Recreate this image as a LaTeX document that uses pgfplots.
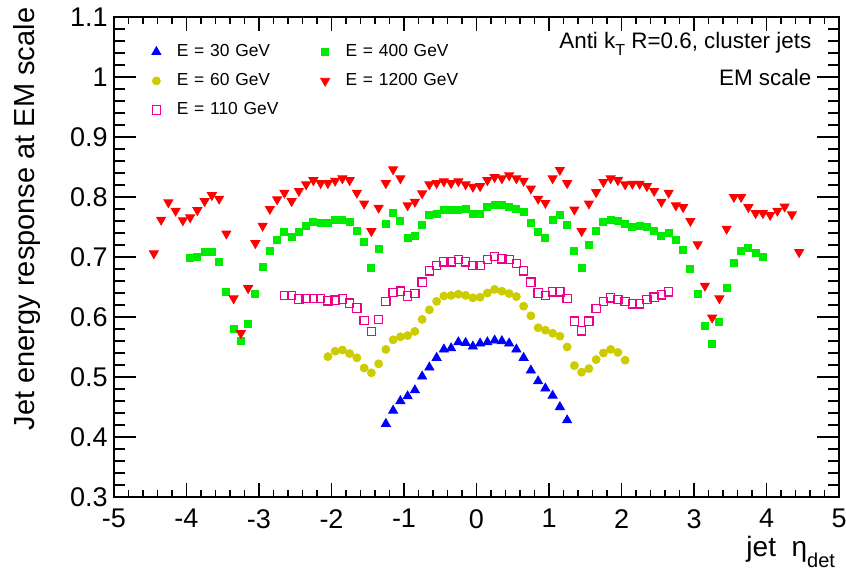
\documentclass[border=0pt]{standalone}
\usepackage{fontspec}
\setmainfont{Liberation Sans}
\usepackage{pgfplots}
\pgfplotsset{compat=1.18}
\definecolor{myyellow}{RGB}{204,204,0}
\definecolor{mygreen}{RGB}{0,235,0}
\pgfplotsset{mk/.style={only marks, legend image code/.code={\path (-5pt,0pt) (5pt,0pt); \draw[mark repeat=2,mark phase=2,##1] plot coordinates {(-5pt,0pt) (0pt,0pt) (5pt,0pt)};}}}
\begin{document}
\begin{tikzpicture}
\useasboundingbox (-57pt,-38pt) rectangle (366pt,248.5pt);
% axis with y ticks
\begin{axis}[at={(0pt,0pt)}, anchor=south west, scale only axis, width=362.5pt, height=240pt,
 xmin=-5, xmax=5, ymin=0.3, ymax=1.1, xtick=\empty,
 ytick={0.3,0.4,0.5,0.6,0.7,0.8,0.9,1,1.1}, minor y tick num=4,
 tick align=inside, ytick pos=both, yticklabel pos=left,
 major tick length=10.9pt, minor tick length=5.45pt,
 /pgf/number format/assume math mode=true,
 yticklabel style={font=\fontsize{13.5}{16}\selectfont, inner sep=0pt, xshift=-3pt},
 tick style={black, line width=0.6pt}, axis line style={line width=0.75pt},
 ylabel={Jet energy response at EM scale},
 ylabel style={at={(axis description cs:-0.12,1.02)}, anchor=east, font=\fontsize{14.5}{17}\selectfont, inner sep=0pt}]
\end{axis}
% data axis with x ticks
\begin{axis}[at={(0pt,0pt)}, anchor=south west, scale only axis, width=362.5pt, height=240pt,
 xmin=-5, xmax=5, ymin=0.3, ymax=1.1,
 xtick={-5,-4,-3,-2,-1,0,1,2,3,4,5}, minor x tick num=4, ytick=\empty,
 tick align=inside, xtick pos=both, xticklabel pos=lower,
 major tick length=7.2pt, minor tick length=3.6pt,
 /pgf/number format/assume math mode=true,
 xticklabel style={font=\fontsize{13.5}{16}\selectfont, inner sep=0pt, yshift=-6pt},
 tick style={black, line width=0.6pt}, axis line style={line width=0.75pt},
 xlabel={jet\ \ η\raisebox{-5.5pt}{\fontsize{10}{12}\selectfont det}},
 xlabel style={at={(axis description cs:0.995,-0.124)}, anchor=base east, font=\fontsize{14}{17}\selectfont, inner sep=0pt},
 legend columns=2, legend cell align=left,
 legend style={at={(axis description cs:0.0441,0.945)}, anchor=north west, draw=none, fill=none,
   inner sep=0pt, outer sep=0pt, column sep=0pt, row sep=6pt, font=\fontsize{8.7}{10}\selectfont,
   nodes={inner xsep=5pt, inner ysep=0pt, text height=6.5pt, text depth=2pt, text width=64pt}},
]
% 30 GeV
\addplot[mk, mark=triangle*, mark size=2.6pt, color=blue, mark options={fill=blue}] coordinates {
(-1.25,0.422) (-1.15,0.444) (-1.05,0.460) (-0.95,0.468) (-0.85,0.478) (-0.75,0.501) (-0.65,0.516)
(-0.55,0.532) (-0.45,0.546) (-0.35,0.548) (-0.25,0.558) (-0.15,0.557) (-0.05,0.551) (0.05,0.556)
(0.15,0.558) (0.25,0.561) (0.35,0.560) (0.45,0.556) (0.55,0.546) (0.65,0.532) (0.75,0.511)
(0.85,0.493) (0.95,0.481) (1.05,0.469) (1.15,0.450) (1.25,0.428)};
\addlegendentry{E = 30 GeV}
% 400 GeV
\addplot[mk, mark=square*, mark size=1.75pt, color=mygreen, mark options={fill=mygreen}] coordinates {
(-3.95,0.699) (-3.85,0.701) (-3.75,0.708) (-3.65,0.708) (-3.55,0.692) (-3.45,0.642) (-3.35,0.581)
(-3.25,0.560) (-3.15,0.589) (-3.05,0.639) (-2.95,0.684) (-2.85,0.711) (-2.75,0.728) (-2.65,0.742)
(-2.55,0.733) (-2.45,0.742) (-2.35,0.752) (-2.25,0.758) (-2.15,0.757) (-2.05,0.757) (-1.95,0.762)
(-1.85,0.762) (-1.75,0.758) (-1.65,0.743) (-1.55,0.725) (-1.45,0.682) (-1.35,0.714) (-1.25,0.756)
(-1.15,0.773) (-1.05,0.761) (-0.95,0.732) (-0.85,0.735) (-0.75,0.753) (-0.65,0.770) (-0.55,0.772)
(-0.45,0.778) (-0.35,0.778) (-0.25,0.778) (-0.15,0.780) (-0.05,0.772) (0.05,0.772) (0.15,0.783)
(0.25,0.787) (0.35,0.787) (0.45,0.783) (0.55,0.780) (0.65,0.775) (0.75,0.757) (0.85,0.742)
(0.95,0.732) (1.05,0.762) (1.15,0.771) (1.25,0.754) (1.35,0.711) (1.45,0.682) (1.55,0.721)
(1.65,0.744) (1.75,0.758) (1.85,0.762) (1.95,0.761) (2.05,0.756) (2.15,0.750) (2.25,0.752)
(2.35,0.750) (2.45,0.743) (2.55,0.736) (2.65,0.740) (2.75,0.728) (2.85,0.712) (2.95,0.681)
(3.05,0.639) (3.15,0.586) (3.25,0.556) (3.35,0.592) (3.45,0.648) (3.55,0.691) (3.65,0.710)
(3.75,0.716) (3.85,0.707) (3.95,0.701)};
\addlegendentry{E = 400 GeV}
% 60 GeV
\addplot[mk, mark=*, mark size=2.0pt, color=myyellow, mark options={fill=myyellow}] coordinates {
(-2.05,0.534) (-1.95,0.543) (-1.85,0.545) (-1.75,0.539) (-1.65,0.532) (-1.55,0.515) (-1.45,0.507)
(-1.35,0.522) (-1.25,0.546) (-1.15,0.562) (-1.05,0.567) (-0.95,0.569) (-0.85,0.576) (-0.75,0.596)
(-0.65,0.612) (-0.55,0.626) (-0.45,0.635) (-0.35,0.636) (-0.25,0.638) (-0.15,0.636) (-0.05,0.632)
(0.05,0.633) (0.15,0.640) (0.25,0.646) (0.35,0.643) (0.45,0.639) (0.55,0.634) (0.65,0.618)
(0.75,0.602) (0.85,0.582) (0.95,0.578) (1.05,0.573) (1.15,0.568) (1.25,0.550) (1.35,0.519)
(1.45,0.508) (1.55,0.514) (1.65,0.529) (1.75,0.540) (1.85,0.546) (1.95,0.541) (2.05,0.528)};
\addlegendentry{E = 60 GeV}
% 1200 GeV
\addplot[mk, mark=triangle*, mark size=2.6pt, color=red, mark options={fill=red, rotate=180}] coordinates {
(-4.45,0.706) (-4.35,0.762) (-4.25,0.791) (-4.15,0.777) (-4.05,0.761) (-3.95,0.766) (-3.85,0.778)
(-3.75,0.793) (-3.65,0.803) (-3.55,0.797) (-3.45,0.739) (-3.35,0.631) (-3.25,0.573) (-3.15,0.648)
(-3.05,0.723) (-2.95,0.752) (-2.85,0.780) (-2.75,0.796) (-2.65,0.807) (-2.55,0.793) (-2.45,0.810)
(-2.35,0.821) (-2.25,0.828) (-2.15,0.823) (-2.05,0.823) (-1.95,0.827) (-1.85,0.831) (-1.75,0.828)
(-1.65,0.807) (-1.55,0.789) (-1.45,0.743) (-1.35,0.782) (-1.25,0.823) (-1.15,0.846) (-1.05,0.831)
(-0.95,0.786) (-0.85,0.792) (-0.75,0.806) (-0.65,0.821) (-0.55,0.823) (-0.45,0.826) (-0.35,0.823)
(-0.25,0.826) (-0.15,0.821) (-0.05,0.817) (0.05,0.818) (0.15,0.828) (0.25,0.833) (0.35,0.831)
(0.45,0.836) (0.55,0.831) (0.65,0.827) (0.75,0.814) (0.85,0.797) (0.95,0.790) (1.05,0.831)
(1.15,0.845) (1.25,0.823) (1.35,0.779) (1.45,0.743) (1.55,0.789) (1.65,0.808) (1.75,0.825)
(1.85,0.831) (1.95,0.828) (2.05,0.821) (2.15,0.822) (2.25,0.822) (2.35,0.818) (2.45,0.810)
(2.55,0.792) (2.65,0.807) (2.75,0.786) (2.85,0.783) (2.95,0.760) (3.05,0.721) (3.15,0.652)
(3.25,0.599) (3.35,0.631) (3.45,0.747) (3.55,0.800) (3.65,0.800) (3.75,0.783) (3.85,0.773)
(3.95,0.773) (4.05,0.770) (4.15,0.777) (4.25,0.784) (4.35,0.771) (4.45,0.708)};
\addlegendentry{E = 1200 GeV}
% 110 GeV
\addplot[mk, mark=square, mark size=2.1pt, color=magenta, mark options={line width=0.6pt}] coordinates {
(-2.65,0.636) (-2.55,0.636) (-2.45,0.630) (-2.35,0.631) (-2.25,0.631) (-2.15,0.631) (-2.05,0.627)
(-1.95,0.628) (-1.85,0.630) (-1.75,0.623) (-1.65,0.615) (-1.55,0.594) (-1.45,0.576) (-1.35,0.596)
(-1.25,0.626) (-1.15,0.641) (-1.05,0.643) (-0.95,0.635) (-0.85,0.639) (-0.75,0.658) (-0.65,0.677)
(-0.55,0.686) (-0.45,0.692) (-0.35,0.692) (-0.25,0.696) (-0.15,0.692) (-0.05,0.686) (0.05,0.686)
(0.15,0.696) (0.25,0.701) (0.35,0.697) (0.45,0.696) (0.55,0.689) (0.65,0.677) (0.75,0.658)
(0.85,0.640) (0.95,0.636) (1.05,0.642) (1.15,0.642) (1.25,0.631) (1.35,0.593) (1.45,0.577)
(1.55,0.593) (1.65,0.614) (1.75,0.626) (1.85,0.632) (1.95,0.629) (2.05,0.626) (2.15,0.622)
(2.25,0.622) (2.35,0.629) (2.45,0.633) (2.55,0.637) (2.65,0.642)};
\addlegendentry{E = 110 GeV}
\node[anchor=base east, inner sep=0pt, font=\fontsize{11.2}{13}\selectfont] at (axis description cs:0.9623,0.9348) {Anti k\raisebox{-3.5pt}{\fontsize{8}{10}\selectfont T} R=0.6, cluster jets};
\node[anchor=base east, inner sep=0pt, font=\fontsize{11.2}{13}\selectfont] at (axis description cs:0.9623,0.8583) {EM scale};
\end{axis}
\end{tikzpicture}
\end{document}
